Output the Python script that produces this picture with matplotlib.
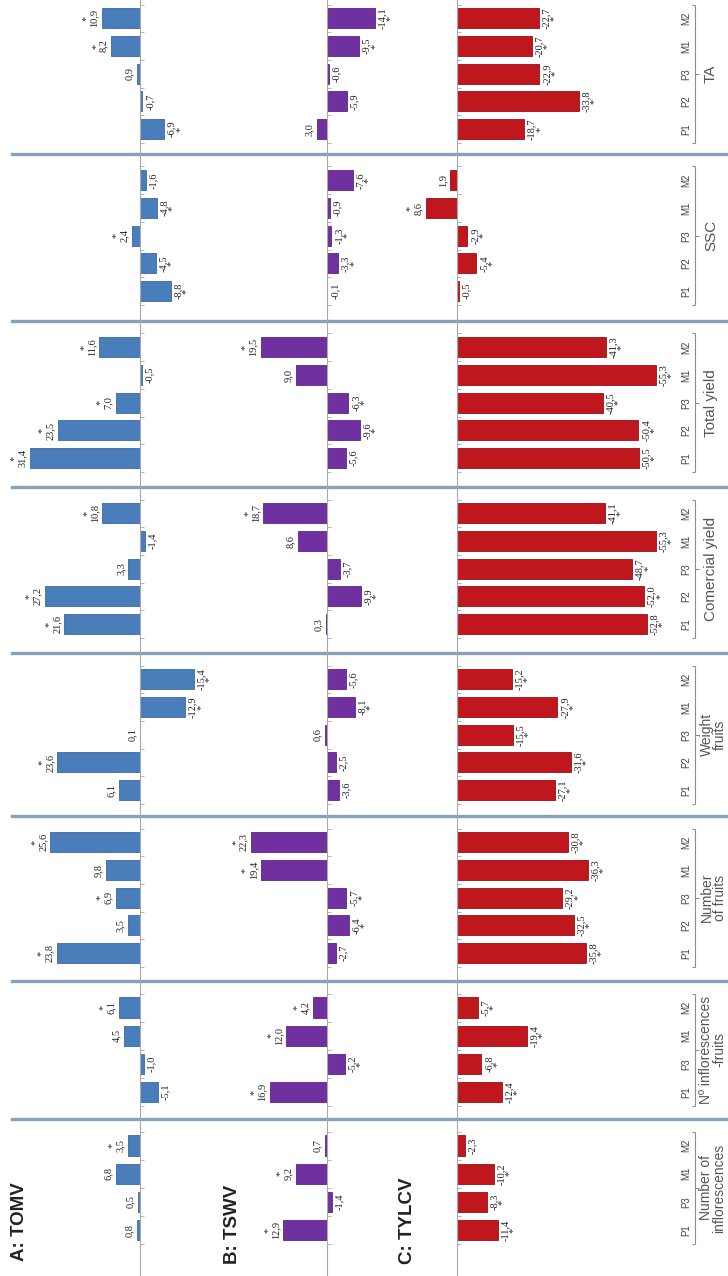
import matplotlib
matplotlib.use("Agg")
import matplotlib.pyplot as plt
from matplotlib.lines import Line2D
import numpy as np

plt.rcParams['font.family'] = ['Liberation Sans', 'DejaVu Sans']

# ---------------------------------------------------------------- data
traits = ["Number of\ninflorescences", "Nº inflorescences\n-fruits", "Number\nof fruits",
          "Weight\nfruits", "Comercial yield", "Total yield", "SSC", "TA"]
cats5 = ["P1", "P2", "P3", "M1", "M2"]
cats4 = ["P1", "P3", "M1", "M2"]
trait_cats = [cats4, cats4, cats5, cats5, cats5, cats5, cats5, cats5]

# % change relative to control, one list per trait (same order as `traits`)
tomv_values = [[0.8, 0.5, 6.8, 3.5],
               [-5.1, -1.0, 4.5, 6.1],
               [23.8, 3.5, 6.9, 9.8, 25.6],
               [6.1, 23.6, 0.1, -12.9, -15.4],
               [21.6, 27.2, 3.3, -1.4, 10.8],
               [31.4, 23.5, 7.0, -0.5, 11.6],
               [-8.8, -4.5, 2.4, -4.8, -1.6],
               [-6.9, -0.7, 0.9, 8.2, 10.9]]
tomv_signif = [[0, 0, 0, 1],
               [0, 0, 0, 1],
               [1, 0, 1, 0, 1],
               [0, 1, 0, 1, 1],
               [1, 1, 0, 0, 1],
               [1, 1, 1, 0, 1],
               [1, 1, 1, 1, 0],
               [1, 0, 0, 1, 1]]

tswv_values = [[12.9, -1.4, 9.2, 0.7],
               [16.9, -5.2, 12.0, 4.2],
               [-2.7, -6.4, -5.7, 19.4, 22.3],
               [-3.6, -2.5, 0.6, -8.1, -5.6],
               [0.3, -9.9, -3.7, 8.6, 18.7],
               [-5.6, -9.6, -6.3, 9.0, 19.5],
               [-0.1, -3.3, -1.3, -0.9, -7.6],
               [3.0, -5.9, -0.6, -9.5, -14.1]]
tswv_signif = [[1, 0, 1, 0],
               [1, 1, 1, 1],
               [0, 1, 1, 1, 1],
               [0, 0, 0, 1, 0],
               [0, 1, 0, 0, 1],
               [0, 1, 1, 0, 1],
               [0, 1, 1, 0, 1],
               [0, 0, 0, 1, 1]]

tylcv_values = [[-11.4, -8.3, -10.2, -2.3],
                [-12.4, -6.8, -19.4, -5.7],
                [-35.8, -32.5, -29.2, -36.3, -30.8],
                [-27.1, -31.6, -15.5, -27.9, -15.2],
                [-52.8, -52.0, -48.7, -55.3, -41.1],
                [-50.5, -50.4, -40.5, -55.3, -41.3],
                [-0.5, -5.4, -2.9, 8.6, 1.9],
                [-18.7, -33.8, -22.9, -20.7, -22.7]]
tylcv_signif = [[1, 1, 1, 0],
                [1, 1, 1, 1],
                [1, 1, 1, 1, 1],
                [1, 1, 1, 1, 1],
                [1, 1, 1, 1, 1],
                [1, 1, 1, 1, 1],
                [0, 1, 1, 1, 0],
                [1, 1, 1, 1, 1]]

virus_names = ["A: TOMV", "B: TSWV", "C: TYLCV"]

# ---------------------------------------------------------------- layout (pixels)
W, H = 728, 1276
fig = plt.figure(figsize=(W / 100, H / 100), dpi=100)
fig.patch.set_facecolor("white")

# trait panels stacked from the bottom of the page upwards
panel_top = [1119, 981, 816, 653, 487, 321, 154, -8]
panel_bot = [1276, 1119, 981, 816, 653, 487, 321, 154]
pitch = {5: 27.7, 4: 28.2}
cat_offset = 12.5

# one column per virus: baseline position, px per % unit, horizontal extent
rows = [
    dict(values=tomv_values, signif=tomv_signif, color="#4a7ebb", edge="#3b6aa3",
         base=140, scale=3.5, xl=6, xr=250, name_pos=(20, 1222)),
    dict(values=tswv_values, signif=tswv_signif, color="#7030a0", edge="#5c2585",
         base=327, scale=3.4, xl=236, xr=440, name_pos=(233, 1224)),
    dict(values=tylcv_values, signif=tylcv_signif, color="#c0161e", edge="#991017",
         base=457, scale=3.6, xl=400, xr=692, name_pos=(408, 1221)),
]


def fig_rect(x0, x1, y_top, y_bot):
    return [x0 / W, 1 - y_bot / H, (x1 - x0) / W, (y_bot - y_top) / H]


def fmt(v):
    return f"{v:.1f}".replace(".", ",")


for p, trait in enumerate(traits):
    cats = trait_cats[p]
    n = len(cats)
    t, b = panel_top[p], panel_bot[p]
    pt = pitch[n]
    c_top = t + cat_offset
    c_bot = c_top + n * pt
    y_lo = -0.5 - (b - c_bot) / pt
    y_hi = n - 0.5 + (c_top - t) / pt
    ypos = np.arange(n)

    for row in rows:
        vals = row["values"][p]
        sig = row["signif"][p]
        ax = fig.add_axes(fig_rect(row["xl"], row["xr"], t, b))
        ax.set_facecolor("none")
        ax.set_xlim((row["base"] - row["xl"]) / row["scale"],
                    -(row["xr"] - row["base"]) / row["scale"])
        ax.set_ylim(y_lo, y_hi)
        for s in ("top", "right", "bottom"):
            ax.spines[s].set_visible(False)
        ax.spines["left"].set_position(("data", 0))
        ax.spines["left"].set_color("#a8a8a8")
        ax.spines["left"].set_linewidth(0.8)
        ax.set_xticks([])
        ax.set_yticks(np.arange(n + 1) - 0.5)
        ax.tick_params(axis="y", direction="in", length=3, width=0.6,
                       color="#a8a8a8", labelleft=False)
        ax.barh(ypos, vals, height=0.72, color=row["color"],
                edgecolor=row["edge"], linewidth=0.6, clip_on=False, zorder=2)
        for j, (v, s) in enumerate(zip(vals, sig)):
            txt = fmt(v)
            if s:
                txt = "*\n" + txt if v >= 0 else txt + "\n*"
            ax.annotate(txt, xy=(v, j), xytext=(-2.2 if v >= 0 else 2.2, 0),
                        textcoords="offset points", rotation=90,
                        ha="right" if v >= 0 else "left", va="center",
                        multialignment="center", linespacing=0.85,
                        fontsize=7.5, family=["Liberation Serif", "DejaVu Serif"],
                        color="#222222", annotation_clip=False)

    # category axis with bracket
    lax = fig.add_axes(fig_rect(674, 702, t, b))
    lax.set_xlim(0, 1)
    lax.set_ylim(y_lo, y_hi)
    lax.axis("off")
    for j, c in enumerate(cats):
        lax.text(0.45, j, c, rotation=90, ha="center", va="center",
                 fontsize=7, color="#444444")
    bk = dict(color="#8c8c8c", lw=0.8, solid_capstyle="butt")
    lax.plot([0.75, 0.75], [-0.5, n - 0.5], **bk)
    lax.plot([0.63, 0.75], [-0.5, -0.5], **bk)
    lax.plot([0.63, 0.75], [n - 0.5, n - 0.5], **bk)
    lax.plot([0.75, 0.88], [(n - 1) / 2, (n - 1) / 2], **bk)

    # trait title
    two_lines = "\n" in trait
    fig.text((713 if two_lines else 711) / W, 1 - ((c_top + c_bot) / 2) / H, trait,
             rotation=90, ha="center", va="center", multialignment="center",
             fontsize=10 if two_lines else 11, color="#555555", linespacing=0.92)

# panel separators
for e in [154, 321, 487, 653, 816, 981, 1119]:
    fig.add_artist(Line2D([12 / W, 1], [1 - e / H, 1 - e / H], color="#87a1b9",
                          lw=2.4, transform=fig.transFigure, zorder=0))

# virus names
for row, name in zip(rows, virus_names):
    x, y = row["name_pos"]
    fig.text(x / W, 1 - y / H, name, rotation=90, ha="center", va="center",
             fontsize=13.5, fontweight="bold", color="#222222")

fig.savefig("out.png", dpi=100)
